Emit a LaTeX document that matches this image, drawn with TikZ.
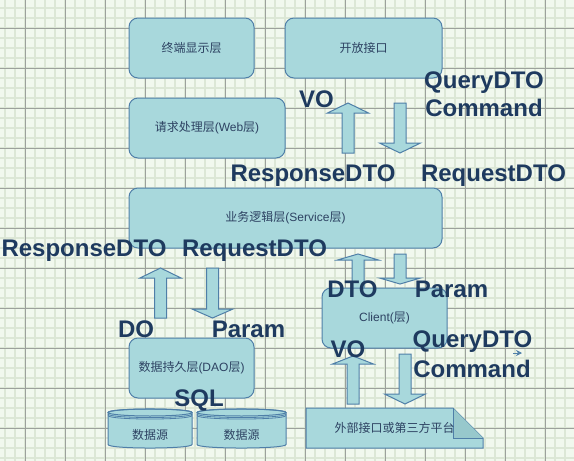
\documentclass[tikz,border=0pt]{standalone}
\usepackage{fontspec}
\setmainfont{Liberation Sans}
\newfontfamily\cjk{Noto Sans CJK SC}
\usetikzlibrary{arrows.meta}

\definecolor{gridbg}{HTML}{F1F8EE}
\definecolor{gridminor}{HTML}{DCE7D6}
\definecolor{gridmajor}{HTML}{9CA19C}
\definecolor{boxfill}{HTML}{A8D8DC}
\definecolor{boxline}{HTML}{4F7FA8}
\definecolor{foldfill}{HTML}{97C8CC}
\definecolor{boxtext}{HTML}{2D4262}
\definecolor{labelblue}{HTML}{1E3A5F}

\begin{document}
\begin{tikzpicture}[x=1pt,y=-1pt,
    layerbox/.style={rectangle,rounded corners=9pt,draw=boxline,fill=boxfill,
      line width=1pt,inner sep=0pt,minimum height=60pt,text=boxtext,
      font=\fontsize{12}{14}\selectfont},
    plaintext/.style={inner sep=0pt,text=boxtext,font=\fontsize{12}{14}\selectfont},
    dtolabel/.style={anchor=base,inner sep=0pt,text=labelblue,
      font=\fontsize{24}{28}\selectfont\bfseries},
    arrowbody/.style={draw=boxline,fill=boxfill,line width=1pt,line join=miter},
    pics/uparrow/.style 2 args={code={
      \draw[arrowbody] (-6,0) -- (-6,{-(#1-#2)}) -- (-20.5,{-(#1-#2)}) -- (0,-#1)
        -- (20.5,{-(#1-#2)}) -- (6,{-(#1-#2)}) -- (6,0) -- cycle;
    }},
    pics/downarrow/.style 2 args={code={
      \draw[arrowbody] (-6,0) -- (-6,{#1-#2}) -- (-20.5,{#1-#2}) -- (0,#1)
        -- (20.5,{#1-#2}) -- (6,{#1-#2}) -- (6,0) -- cycle;
    }},
    pics/drum/.style 2 args={code={
      \draw[arrowbody] (-#1,-16) -- (-#1,16) .. controls (-#1,20.7) and (#1,20.7) .. (#1,16)
        -- (#1,-16) .. controls (#1,-20.7) and (-#1,-20.7) .. (-#1,-16) -- cycle;
      \draw[boxline,line width=1pt] (0,-16) ellipse [x radius=#1,y radius=3.5];
      \draw[boxline,line width=0.8pt] (-#1,-14.5) .. controls (-#1,-9.8) and (#1,-9.8) .. (#1,-14.5);
      \draw[boxline,line width=0.8pt] (-#1,-13) .. controls (-#1,-8.3) and (#1,-8.3) .. (#1,-13);
      \node[plaintext] (-label) at (0,6.5) {{\cjk #2}};
    }}]
  \useasboundingbox (0,0) rectangle (574,461);
  % grid paper
  \fill[gridbg] (0,0) rectangle (574,461);
  \foreach \x in {5,15,...,565} \draw[gridminor,line width=1.5pt] (\x,0) -- (\x,461);
  \foreach \y in {8,18,...,458} \draw[gridminor,line width=1.5pt] (0,\y) -- (574,\y);
  \foreach \x in {25,65,...,545} \draw[gridmajor,line width=0.8pt] (\x,0) -- (\x,461);
  \foreach \y in {28,68,...,428} \draw[gridmajor,line width=0.8pt] (0,\y) -- (574,\y);

  % block arrows
  \pic (voup) at (348,153) {uparrow={50}{10}};
  \pic (qdown) at (400,103) {downarrow={50}{10}};
  \pic (doup) at (160.5,318) {uparrow={50}{10}};
  \pic (pdown) at (212.5,268) {downarrow={50}{9}};
  \pic (dtoup) at (358,292) {uparrow={38}{6}};
  \pic (prdown) at (400,254) {downarrow={30}{6}};
  \pic (vo2up) at (353,404) {uparrow={48}{8}};
  \pic (q2down) at (405,354) {downarrow={50}{10}};

  % layers
  \node[layerbox,minimum width=125pt] (term) at (191.5,48) {{\cjk 终端显示层}};
  \node[layerbox,minimum width=157pt] (open) at (363.5,48) {{\cjk 开放接口}};
  \node[layerbox,minimum width=156pt] (web) at (207,128) {{\cjk 请求处理层}(Web{\cjk 层})};
  \node[layerbox,minimum width=313pt] (service) at (285.5,218) {{\cjk 业务逻辑层}(Service{\cjk 层})};
  \node[layerbox,minimum width=125pt] (client) at (384.5,318) {Client({\cjk 层})};
  \node[layerbox,minimum width=125pt] (dao) at (191.5,368) {{\cjk 数据持久层}(DAO{\cjk 层})};

  \pic (src1) at (150,428.5) {drum={42}{数据源}};
  \pic (src2) at (241.5,428.5) {drum={44.5}{数据源}};

  \filldraw[arrowbody] (306,408) -- (453,408) -- (483,438) -- (483,448) -- (306,448) -- cycle;
  \fill[foldfill] (453,408) -- (453,438) -- (483,438) -- cycle;
  \draw[boxline,line width=1pt] (453,408) -- (453,438) -- (483,438);
  \node[plaintext] (ext) at (394.5,428) {{\cjk 外部接口或第三方平台}};

  % labels
  \node[dtolabel] (vo1) at (316.5,107) {VO};
  \node[dtolabel] (query1) at (484,88.3) {QueryDTO};
  \node[dtolabel] (cmd1) at (484,116.7) {Command};
  \node[dtolabel] (resp1) at (313,181.7) {ResponseDTO};
  \node[dtolabel] (req1) at (493.5,181.7) {RequestDTO};
  \node[dtolabel] (resp2) at (84,256.5) {ResponseDTO};
  \node[dtolabel] (req2) at (254.5,256.5) {RequestDTO};
  \node[dtolabel] (do) at (136,337) {DO};
  \node[dtolabel] (param1) at (248.5,337) {Param};
  \node[dtolabel] (sql) at (199,406) {SQL};
  \node[dtolabel] (dto) at (352.5,297) {DTO};
  \node[dtolabel] (param2) at (451.5,297) {Param};
  \node[dtolabel] (vo2) at (348,357) {VO};
  \node[dtolabel] (query2) at (472.5,347) {QueryDTO};
  \node[dtolabel] (cmd2) at (472,377) {Command};

  \coordinate (stray) at (513,353);
  \draw[boxline,line width=0.8pt,-{Stealth[length=6pt,width=6pt]}] (stray) -- ++(9,0);
\end{tikzpicture}
\end{document}
